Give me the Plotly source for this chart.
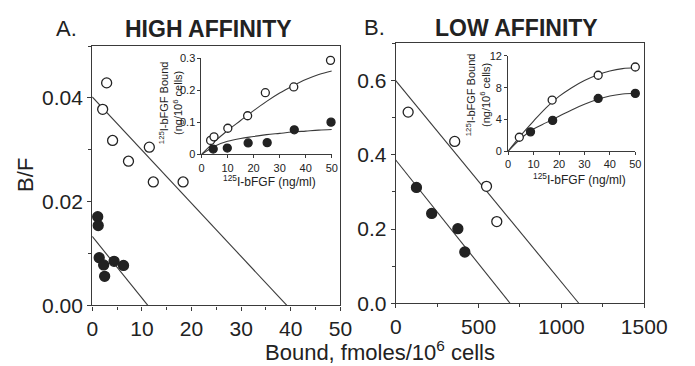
import plotly.graph_objects as go

W, H = 695, 366

# ---- Panel A (high affinity) Scatchard data ----
a_open_x = [2.9, 2.1, 4.1, 7.3, 11.5, 12.3, 18.3]
a_open_y = [0.0429, 0.0378, 0.0318, 0.0278, 0.0305, 0.0238, 0.0238]
a_fill_x = [1.1, 1.2, 1.4, 2.3, 2.5, 4.4, 6.3]
a_fill_y = [0.0171, 0.0154, 0.0092, 0.0078, 0.0056, 0.0085, 0.0077]
a_open_fit_x = [0, 39.2]
a_open_fit_y = [0.0402, 0.0]
a_fill_fit_x = [0, 11.2]
a_fill_fit_y = [0.0133, 0.0]

# ---- Panel A inset (saturation) ----
ai_open_x = [3.5, 4.8, 10.1, 17.7, 24.5, 35.4, 49.5]
ai_open_y = [0.044, 0.055, 0.082, 0.121, 0.193, 0.211, 0.294]
ai_fill_x = [4.5, 9.9, 17.9, 25.2, 35.6, 49.7]
ai_fill_y = [0.017, 0.020, 0.036, 0.037, 0.077, 0.101]
ai_open_curve_x = [0, 5, 10, 15, 20, 25, 30, 35, 40, 45, 50]
ai_open_curve_y = [0, 0.040, 0.075, 0.106, 0.137, 0.166, 0.192, 0.214, 0.234, 0.250, 0.261]
ai_fill_curve_x = [0, 5, 10, 15, 20, 25, 30, 35, 40, 45, 50]
ai_fill_curve_y = [0, 0.026, 0.041, 0.050, 0.056, 0.062, 0.066, 0.070, 0.073, 0.076, 0.078]

# ---- Panel B (low affinity) Scatchard data ----
b_open_x = [75, 356, 548, 610]
b_open_y = [0.515, 0.436, 0.315, 0.220]
b_fill_x = [125, 217, 375, 417]
b_fill_y = [0.312, 0.242, 0.201, 0.138]
b_open_fit_x = [0, 1105]
b_open_fit_y = [0.600, 0.0]
b_fill_fit_x = [0, 690]
b_fill_fit_y = [0.386, 0.0]

# ---- Panel B inset ----
bi_open_x = [4.4, 17.3, 35.4, 50]
bi_open_y = [1.76, 6.44, 9.56, 10.6]
bi_fill_x = [8.8, 17.5, 35.4, 50]
bi_fill_y = [2.44, 3.88, 6.64, 7.28]
bi_open_curve_x = [0, 5, 10, 15, 20, 25, 30, 35, 40, 45, 50]
bi_open_curve_y = [0, 2.0, 3.8, 5.5, 6.9, 8.0, 8.9, 9.6, 10.1, 10.4, 10.5]
bi_fill_curve_x = [0, 5, 10, 15, 20, 25, 30, 35, 40, 45, 50]
bi_fill_curve_y = [0, 1.6, 2.8, 3.6, 4.4, 5.2, 5.9, 6.5, 6.95, 7.2, 7.3]

FONT = "Liberation Sans, Arial, Helvetica, sans-serif"
INK = "#222222"
LINE = "#3a3a3a"


def px(x):
    return x / W


def py(y):
    return 1 - y / H


fig = go.Figure()


def add_series(xs, ys, xa, ya, filled, size):
    fig.add_trace(go.Scatter(
        x=xs, y=ys, mode="markers", xaxis=xa, yaxis=ya, showlegend=False,
        marker=dict(size=size, color=INK if filled else "white",
                    line=dict(color=INK, width=1.3)),
        cliponaxis=False))


def add_line(xs, ys, xa, ya, spline=False):
    fig.add_trace(go.Scatter(
        x=xs, y=ys, mode="lines", xaxis=xa, yaxis=ya, showlegend=False,
        line=dict(color=LINE, width=1.1, shape="spline" if spline else "linear"),
        cliponaxis=False))


# Panel A
add_line(a_open_fit_x, a_open_fit_y, "x", "y")
add_line(a_fill_fit_x, a_fill_fit_y, "x", "y")
add_series(a_open_x, a_open_y, "x", "y", False, 10)
add_series(a_fill_x, a_fill_y, "x", "y", True, 10)
# Inset A
add_line(ai_open_curve_x, ai_open_curve_y, "x2", "y2", True)
add_line(ai_fill_curve_x, ai_fill_curve_y, "x2", "y2", True)
add_series(ai_open_x, ai_open_y, "x2", "y2", False, 8)
add_series(ai_fill_x, ai_fill_y, "x2", "y2", True, 8)
# Panel B
add_line(b_open_fit_x, b_open_fit_y, "x3", "y3")
add_line(b_fill_fit_x, b_fill_fit_y, "x3", "y3")
add_series(b_open_x, b_open_y, "x3", "y3", False, 10)
add_series(b_fill_x, b_fill_y, "x3", "y3", True, 10)
# Inset B
add_line(bi_open_curve_x, bi_open_curve_y, "x4", "y4", True)
add_line(bi_fill_curve_x, bi_fill_curve_y, "x4", "y4", True)
add_series(bi_open_x, bi_open_y, "x4", "y4", False, 8)
add_series(bi_fill_x, bi_fill_y, "x4", "y4", True, 8)

main_tick = dict(family=FONT, size=21, color=INK)
inset_tick = dict(family=FONT, size=11, color=INK)


def main_axis(domain, rng, dtick, minor, anchor, fmt=None):
    d = dict(domain=domain, range=rng, dtick=dtick, tick0=0, anchor=anchor,
             showgrid=False, zeroline=False, showline=True, linecolor=LINE,
             linewidth=1.2, mirror=True, ticks="outside", ticklen=4,
             tickcolor=LINE, tickfont=main_tick,
             minor=dict(dtick=minor, ticks="outside", ticklen=3, tickcolor=LINE))
    if fmt:
        d["tickformat"] = fmt
    return d


def inset_axis(domain, rng, dtick, anchor, fmt=None):
    d = dict(domain=domain, range=rng, dtick=dtick, tick0=0, anchor=anchor,
             showgrid=False, zeroline=False, showline=True, linecolor=LINE,
             linewidth=1.0, mirror=False, ticks="outside", ticklen=3,
             tickcolor=LINE, tickfont=inset_tick)
    if fmt:
        d["tickformat"] = fmt
    return d


fig.update_layout(
    width=W, height=H, margin=dict(l=0, r=0, t=0, b=0),
    paper_bgcolor="white", plot_bgcolor="rgba(0,0,0,0)",
    font=dict(family=FONT, color=INK),
    xaxis=main_axis([px(90), px(349)], [0, 50], 10, 5, "y"),
    yaxis=main_axis([py(314), py(42)], [0, 0.05], 0.02, 0.01, "x", ".2f"),
    xaxis2=inset_axis([px(204), px(340)], [0, 50], 10, "y2"),
    yaxis2=dict(inset_axis([py(155.7), py(55)], [0, 0.3], 0.1, "x2"),
                tickvals=[0, 0.1, 0.2, 0.3], ticktext=["0", "0.1", "0.2", "0.3"]),
    xaxis3=main_axis([px(406.7), px(666)], [0, 1500], 500, 250, "y3"),
    yaxis3=main_axis([py(311.7), py(39.3)], [0, 0.7], 0.2, 0.1, "x3", ".1f"),
    xaxis4=inset_axis([px(524), px(656.7)], [0, 50], 10, "y4"),
    yaxis4=inset_axis([py(152.3), py(52.3)], [0, 12], 4, "x4"),
)

ann = []


def text(x, y, s, size, bold=False, angle=0, xanchor="center", yanchor="middle"):
    ann.append(dict(x=px(x), y=py(y), xref="paper", yref="paper", text=s,
                    showarrow=False, textangle=angle, xanchor=xanchor,
                    yanchor=yanchor,
                    font=dict(family=FONT, size=size, color=INK,
                              weight="bold" if bold else "normal")))


text(63, 24, "A.", 22)
text(211, 24, "HIGH AFFINITY", 23, bold=True)
text(385, 23, "B.", 22)
text(533, 23, "LOW AFFINITY", 23, bold=True)
text(21, 177, "B/F", 22, angle=-90)
text(390, 362, "Bound, fmoles/10<sup>6</sup> cells", 22)
# inset titles
text(172, 101, "<sup>125</sup>I-bFGF Bound<br>(ng/10<sup>6</sup> cells)", 11, angle=-90)
text(275, 184, "<sup>125</sup>I-bFGF (ng/ml)", 12)
text(492, 93, "<sup>125</sup>I-bFGF Bound<br>(ng/10<sup>6</sup> cells)", 11, angle=-90)
text(598, 181, "<sup>125</sup>I-bFGF (ng/ml)", 12)

fig.update_layout(annotations=ann)
fig.write_html("out.html")
